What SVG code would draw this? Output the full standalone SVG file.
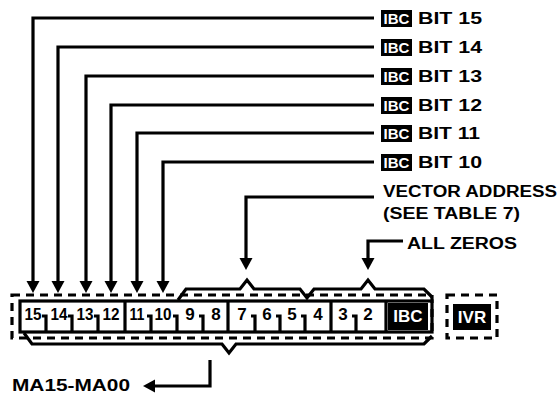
<svg xmlns="http://www.w3.org/2000/svg" width="559" height="395" viewBox="0 0 559 395">
<style>
.ln{fill:none;stroke:#000;stroke-width:3.2;stroke-linejoin:miter}
.dash{fill:none;stroke:#000;stroke-width:3.2;stroke-dasharray:8 6}
.t{font-family:"Liberation Sans",Arial,sans-serif;font-weight:bold;fill:#000}
.w{font-family:"Liberation Sans",Arial,sans-serif;font-weight:bold;fill:#fff}
.d{font-family:"Liberation Sans",Arial,sans-serif;font-weight:bold;font-size:17px;fill:#000;text-anchor:middle}
</style>
<defs>
<marker id="ah" markerUnits="userSpaceOnUse" markerWidth="14" markerHeight="14" refX="4" refY="6.5" orient="auto">
<path d="M0,0 L12,6.5 L0,13 z" fill="#000"/>
</marker>
</defs>
<rect width="559" height="395" fill="#fff"/>

<g id="labels">
<g id="lbl15"><rect x="381" y="10" width="31" height="17" fill="#000"/><text class="w" x="396.5" y="24" font-size="15" text-anchor="middle">IBC</text><text class="t" x="418" y="24" font-size="16" textLength="64" lengthAdjust="spacingAndGlyphs">BIT 15</text></g>
<g id="lbl14"><rect x="381" y="39" width="31" height="17" fill="#000"/><text class="w" x="396.5" y="53" font-size="15" text-anchor="middle">IBC</text><text class="t" x="418" y="53" font-size="16" textLength="64" lengthAdjust="spacingAndGlyphs">BIT 14</text></g>
<g id="lbl13"><rect x="381" y="68" width="31" height="17" fill="#000"/><text class="w" x="396.5" y="82" font-size="15" text-anchor="middle">IBC</text><text class="t" x="418" y="82" font-size="16" textLength="64" lengthAdjust="spacingAndGlyphs">BIT 13</text></g>
<g id="lbl12"><rect x="381" y="97" width="31" height="17" fill="#000"/><text class="w" x="396.5" y="111" font-size="15" text-anchor="middle">IBC</text><text class="t" x="418" y="111" font-size="16" textLength="64" lengthAdjust="spacingAndGlyphs">BIT 12</text></g>
<g id="lbl11"><rect x="381" y="125" width="31" height="17" fill="#000"/><text class="w" x="396.5" y="139" font-size="15" text-anchor="middle">IBC</text><text class="t" x="418" y="139" font-size="16" textLength="62" lengthAdjust="spacingAndGlyphs">BIT 11</text></g>
<g id="lbl10"><rect x="381" y="154" width="31" height="17" fill="#000"/><text class="w" x="396.5" y="168" font-size="15" text-anchor="middle">IBC</text><text class="t" x="418" y="168" font-size="16" textLength="64" lengthAdjust="spacingAndGlyphs">BIT 10</text></g>
<g id="vector"><text class="t" x="383" y="197" font-size="16" textLength="174" lengthAdjust="spacingAndGlyphs">VECTOR ADDRESS</text><text class="t" x="383" y="219" font-size="16" textLength="137" lengthAdjust="spacingAndGlyphs">(SEE TABLE 7)</text></g>
<g id="zeros"><text class="t" x="407" y="249" font-size="16" textLength="110" lengthAdjust="spacingAndGlyphs">ALL ZEROS</text></g>
<g id="ma"><text class="t" x="12" y="391" font-size="16" textLength="118" lengthAdjust="spacingAndGlyphs">MA15-MA00</text></g>
</g>

<g id="register">
<rect class="dash" x="12" y="295" width="420" height="43"/>
<rect class="ln" x="20" y="301" width="412" height="31" fill="#fff"/>
<path class="ln" d="M125,301 V332 M228,301 V332 M331,301 V332 M386,301 V332"/>
<path class="ln" d="M42,316 H46 V332 M68,316 H72 V332 M94,316 H98 V332 M147,316 H151 V332 M173,316 H177 V332 M199,316 H203 V332 M251,316 H255 V332 M276,316 H280 V332 M301,316 H305 V332 M352,316 H356 V332"/>
<text class="d" x="33" y="320" textLength="17" lengthAdjust="spacingAndGlyphs">15</text>
<text class="d" x="59" y="320" textLength="17" lengthAdjust="spacingAndGlyphs">14</text>
<text class="d" x="85" y="320" textLength="17" lengthAdjust="spacingAndGlyphs">13</text>
<text class="d" x="111" y="320" textLength="17" lengthAdjust="spacingAndGlyphs">12</text>
<text class="d" x="137" y="320" textLength="15" lengthAdjust="spacingAndGlyphs">11</text>
<text class="d" x="163" y="320" textLength="17" lengthAdjust="spacingAndGlyphs">10</text>
<text class="d" x="190" y="320">9</text>
<text class="d" x="216" y="320">8</text>
<text class="d" x="242" y="320">7</text>
<text class="d" x="267" y="320">6</text>
<text class="d" x="292" y="320">5</text>
<text class="d" x="318" y="320">4</text>
<text class="d" x="343" y="320">3</text>
<text class="d" x="368" y="320">2</text>
<rect x="388" y="303" width="40" height="27" fill="#000"/>
<text class="w" x="408" y="322" font-size="17" text-anchor="middle">IBC</text>
</g>

<g id="ivr">
<rect class="dash" x="447" y="295" width="50" height="43"/>
<rect x="453" y="304" width="38" height="26" fill="#000"/>
<text class="w" x="472" y="323" font-size="17" text-anchor="middle">IVR</text>
</g>

<g id="braces">
<path class="ln" d="M178,300 L186,289 H240 L247,280 L254,289 H300 L307,298 L314,289 H361 L368,280 L375,289 H424 L432,297"/>
<path class="ln" d="M24,333 L32,344 H222 L229,353 L236,344 H424 L432,336"/>
</g>

<g id="connectors">
<path class="ln" d="M374,18 H33 V285" marker-end="url(#ah)"/>
<path class="ln" d="M374,47 H58 V285" marker-end="url(#ah)"/>
<path class="ln" d="M374,76 H86 V285" marker-end="url(#ah)"/>
<path class="ln" d="M374,105 H111 V285" marker-end="url(#ah)"/>
<path class="ln" d="M374,133 H137 V285" marker-end="url(#ah)"/>
<path class="ln" d="M374,162 H163 V285" marker-end="url(#ah)"/>
<path class="ln" d="M374,197 H246 V262" marker-end="url(#ah)"/>
<path class="ln" d="M403,241 H368 V262" marker-end="url(#ah)"/>
<path class="ln" d="M210,360 V386 H151" marker-end="url(#ah)"/>
</g>
</svg>
